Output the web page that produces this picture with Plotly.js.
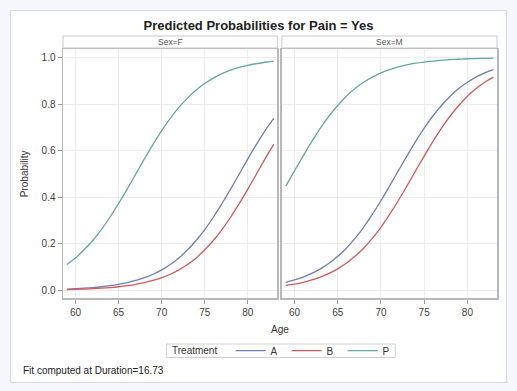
<!DOCTYPE html>
<html>
<head>
<meta charset="utf-8">
<script src="https://cdn.plot.ly/plotly-3.0.1.min.js"></script>
<style>
  html, body { margin: 0; padding: 0; background: #f5f7fc; width: 517px; height: 391px; overflow: hidden; }
  #box { position: absolute; left: 10px; top: 10px; width: 495px; height: 371px; background: #ffffff; border: 1px solid #d6d8dc; }
  #chart { position: absolute; left: 0; top: 0; width: 517px; height: 391px; }
</style>
</head>
<body>
<div id="box"></div>
<div id="chart"></div>
<script>
// Ages at which the fitted curves are drawn
const ages = [59,60,61,62,63,64,65,66,67,68,69,70,71,72,73,74,75,76,77,78,79,80,81,82,83];

// Sex = F
const femaleA = [0.0055,0.0071,0.0092,0.0119,0.0154,0.0198,0.0256,0.0329,0.0423,0.0542,0.069,0.088,0.111,0.139,0.174,0.214,0.261,0.314,0.373,0.435,0.5,0.565,0.627,0.686,0.739];
const femaleB = [0.0033,0.0042,0.0055,0.0071,0.0092,0.0119,0.0154,0.0198,0.0256,0.0329,0.0423,0.0542,0.069,0.088,0.111,0.139,0.174,0.214,0.261,0.314,0.373,0.435,0.5,0.565,0.627];
const femaleP = [0.111,0.139,0.174,0.214,0.261,0.314,0.373,0.435,0.5,0.565,0.627,0.686,0.739,0.786,0.826,0.861,0.889,0.912,0.931,0.946,0.958,0.967,0.974,0.980,0.985];

// Sex = M
const maleA = [0.0346,0.0444,0.0569,0.0725,0.0921,0.116,0.146,0.181,0.223,0.271,0.326,0.385,0.448,0.513,0.577,0.639,0.697,0.749,0.794,0.834,0.867,0.894,0.916,0.934,0.948];
const maleB = [0.0209,0.0269,0.0346,0.0444,0.0569,0.0725,0.0921,0.116,0.146,0.181,0.223,0.271,0.326,0.385,0.448,0.513,0.577,0.639,0.697,0.749,0.794,0.834,0.867,0.894,0.916];
const maleP = [0.448,0.513,0.577,0.639,0.697,0.749,0.794,0.834,0.867,0.894,0.916,0.934,0.948,0.960,0.969,0.976,0.981,0.985,0.989,0.991,0.993,0.995,0.996,0.997,0.998];

const treatments = ['A','B','P'];
const panels = ['Sex=F','Sex=M'];
const xTicks = [60,65,70,75,80];
const yTicks = [0,0.2,0.4,0.6,0.8,1.0];
const yTickText = ['0.0','0.2','0.4','0.6','0.8','1.0'];
const titleText = 'Predicted Probabilities for Pain = Yes';
const footText = 'Fit computed at Duration=16.73';
const legendTitle = 'Treatment';

const colors = {A:'#6F7EB3', B:'#D05B5B', P:'#66A5A0'};
const seriesF = {A: femaleA, B: femaleB, P: femaleP};
const seriesM = {A: maleA, B: maleB, P: maleP};

const FONT = '"Liberation Sans", Arial, sans-serif';
const traces = [];
treatments.forEach(t => {
  traces.push({x: ages, y: seriesF[t], type:'scatter', mode:'lines', name: t, legendgroup: t,
    line:{color: colors[t], width:1.3, shape:'spline', smoothing:1}, xaxis:'x', yaxis:'y', showlegend:true});
});
treatments.forEach(t => {
  traces.push({x: ages, y: seriesM[t], type:'scatter', mode:'lines', name: t, legendgroup: t,
    line:{color: colors[t], width:1.3, shape:'spline', smoothing:1}, xaxis:'x2', yaxis:'y2', showlegend:false});
});

const xr = [58.55, 83.42];
const yr = [-0.033, 1.037];
const common = {
  showline:true, mirror:true, linecolor:'#b8b8b8', linewidth:1.5,
  showgrid:true, gridcolor:'#ececec', gridwidth:1, zeroline:false,
  ticks:'outside', ticklen:4, tickcolor:'#9a9a9a', tickwidth:1,
  tickfont:{family:FONT, size:10, color:'#404040'}
};

// pixel helpers (plot area: x 63.3..497.5, y 49..298)
const px = x => (x - 63.3) / 434.2;
const py = y => (298 - y) / 249;

const hdrTop = py(36);
const layout = {
  width:517, height:391,
  paper_bgcolor:'rgba(0,0,0,0)', plot_bgcolor:'#ffffff',
  margin:{l:63.3, r:19.5, t:49, b:93},
  font:{family:FONT, color:'#333'},
  title:{text:'<b>'+titleText+'</b>', x:0.5, xref:'container', y:1-25/391, yref:'container', yanchor:'middle',
    font:{family:FONT, size:13, color:'#222'}},
  xaxis: Object.assign({}, common, {domain:[0,0.4938], range:xr, tickvals:xTicks, anchor:'y'}),
  xaxis2: Object.assign({}, common, {domain:[0.5044,1], range:xr, tickvals:xTicks, anchor:'y2'}),
  yaxis: Object.assign({}, common, {domain:[0,1], range:yr, tickvals:yTicks, ticktext:yTickText, anchor:'x'}),
  yaxis2: Object.assign({}, common, {domain:[0,1], range:yr, tickvals:yTicks, showticklabels:false, ticks:'', anchor:'x2'}),
  showlegend:true,
  legend:{orientation:'h', x:px(231), xanchor:'left', y:py(350.7), yanchor:'middle',
    bgcolor:'rgba(0,0,0,0)', borderwidth:0,
    font:{family:FONT, size:10, color:'#333'}, entrywidth:11, entrywidthmode:'pixels', tracegroupgap:0},
  shapes:[
    {type:'rect', xref:'paper', yref:'paper', x0:0, x1:0.4938, y0:1.004, y1:hdrTop, fillcolor:'#ffffff', line:{color:'#c8c8c8', width:1}},
    {type:'rect', xref:'paper', yref:'paper', x0:0.5044, x1:1, y0:1.004, y1:hdrTop, fillcolor:'#ffffff', line:{color:'#c8c8c8', width:1}},
    {type:'rect', xref:'paper', yref:'paper', x0:px(166.7), x1:px(395.7), y0:py(344), y1:py(357.5), fillcolor:'rgba(0,0,0,0)', line:{color:'#d0d0d0', width:1}, layer:'below'}
  ],
  annotations:[
    {text:panels[0], xref:'paper', yref:'paper', x:0.2469, y:py(42), xanchor:'center', yanchor:'middle', showarrow:false, font:{family:FONT, size:8.5, color:'#555'}},
    {text:panels[1], xref:'paper', yref:'paper', x:0.7522, y:py(42), xanchor:'center', yanchor:'middle', showarrow:false, font:{family:FONT, size:8.5, color:'#555'}},
    {text:'Age', xref:'paper', yref:'paper', x:px(280), y:py(329), xanchor:'center', yanchor:'middle', showarrow:false, font:{family:FONT, size:10, color:'#333'}},
    {text:'Probability', xref:'paper', yref:'paper', x:px(25), y:0.5, xanchor:'center', yanchor:'middle', textangle:-90, showarrow:false, font:{family:FONT, size:10, color:'#333'}},
    {text:legendTitle, xref:'paper', yref:'paper', x:px(170), y:py(350.7), xanchor:'left', yanchor:'middle', showarrow:false, font:{family:FONT, size:10, color:'#333'}},
    {text:footText, xref:'paper', yref:'paper', x:px(21.3), y:py(370), xanchor:'left', yanchor:'middle', showarrow:false, font:{family:FONT, size:10, color:'#222'}}
  ]
};

Plotly.newPlot('chart', traces, layout, {displayModeBar:false, staticPlot:true});
</script>
</body>
</html>
